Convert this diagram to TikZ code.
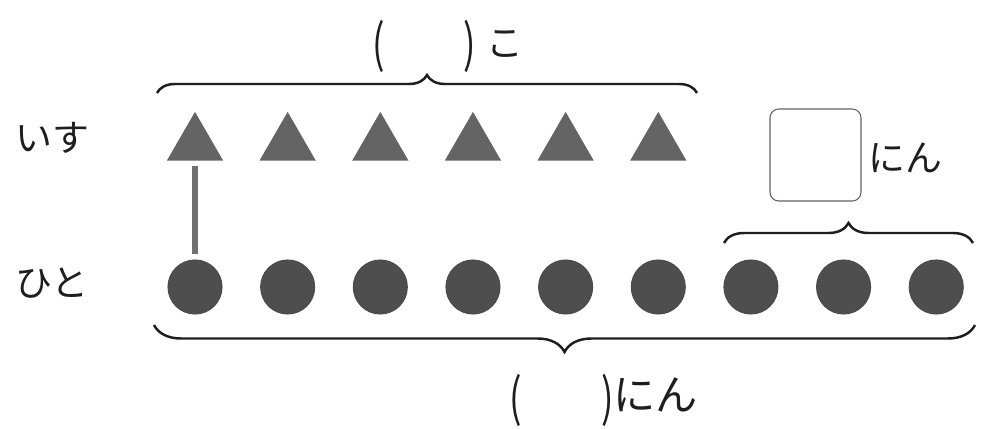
\documentclass[tikz,border=0pt]{standalone}
\usepackage{fontspec}
\usepackage{graphicx}
\newfontfamily\jpfont{Noto Sans CJK JP}
\usetikzlibrary{positioning,calc,shapes.geometric,decorations.pathreplacing}
\definecolor{ChairGray}{RGB}{100,100,100}
\definecolor{PersonGray}{RGB}{78,78,78}
\definecolor{LinkGray}{RGB}{112,112,112}
\definecolor{Ink}{RGB}{30,30,30}
\newcommand{\tallL}{\raisebox{-0.11cm}{\scalebox{1}[1.4]{(}}}
\newcommand{\tallR}{\raisebox{-0.11cm}{\scalebox{1}[1.4]{)}}}

\begin{document}
\begin{tikzpicture}[
    node distance=0.752cm,
    chair/.style={regular polygon, regular polygon sides=3, fill=ChairGray,
      inner sep=0pt, minimum size=1.3cm},
    person/.style={circle, fill=PersonGray, draw=Ink!80, line width=0.6pt,
      inner sep=0pt, minimum size=1.08cm},
    link/.style={line width=3.2pt, draw=LinkGray, shorten <=0.1cm, shorten >=0.1cm},
    brc/.style={decorate, line width=1.4pt, draw=Ink},
    answerbox/.style={draw=Ink!70, line width=0.6pt, rounded corners=5pt,
      minimum width=1.82cm, minimum height=1.84cm},
    lbl/.style={font=\jpfont\fontsize{21}{25}\selectfont, text=Ink, inner sep=0pt}
  ]
    \useasboundingbox (0,0) rectangle (19.84,-8.58);

    % people
    \node[person] (p1) at (3.90,-5.74) {};
    \node[person, right=of p1] (p2) {};
    \node[person, right=of p2] (p3) {};
    \node[person, right=of p3] (p4) {};
    \node[person, right=of p4] (p5) {};
    \node[person, right=of p5] (p6) {};
    \node[person, right=of p6] (p7) {};
    \node[person, right=of p7] (p8) {};
    \node[person, right=of p8] (p9) {};

    % chairs
    \node[chair, above=1.97cm of p1] (c1) {};
    \node[chair, above=1.97cm of p2] (c2) {};
    \node[chair, above=1.97cm of p3] (c3) {};
    \node[chair, above=1.97cm of p4] (c4) {};
    \node[chair, above=1.97cm of p5] (c5) {};
    \node[chair, above=1.97cm of p6] (c6) {};

    \draw[link] (c1) -- (p1);

    % row names
    \node[lbl] (isu) at (1.04,-2.76) {いす};
    \node[lbl] (hito) at (1.04,-5.66) {ひと};

    % braces
    \coordinate (topL) at (3.14,-1.86);
    \coordinate (topR) at (13.94,-1.86);
    \coordinate (restL) at (14.48,-4.86);
    \coordinate (restR) at (19.46,-4.86);
    \coordinate (allL) at (3.08,-6.50);
    \coordinate (allR) at (19.50,-6.50);
    \draw[brc, decoration={brace, amplitude=0.36cm}] (topL) -- (topR);
    \draw[brc, decoration={brace, amplitude=0.40cm}] (restL) -- (restR);
    \draw[brc, decoration={brace, amplitude=0.54cm}] (allR) -- (allL);

    % answers
    \node[lbl] (chairs) at (8.95,-0.92) {\tallL\hspace{1.58cm}\tallR\hspace{0.2cm}こ};
    \node[answerbox] (rest) at (16.31,-3.10) {};
    \node[lbl, right=0.14cm of rest, yshift=-0.06cm] (restunit) {にん};
    \node[lbl] (people) at (12.08,-8.00) {\tallL\hspace{1.58cm}\tallR{\fontsize{24}{28}\selectfont にん}};
  \end{tikzpicture}
\end{document}
